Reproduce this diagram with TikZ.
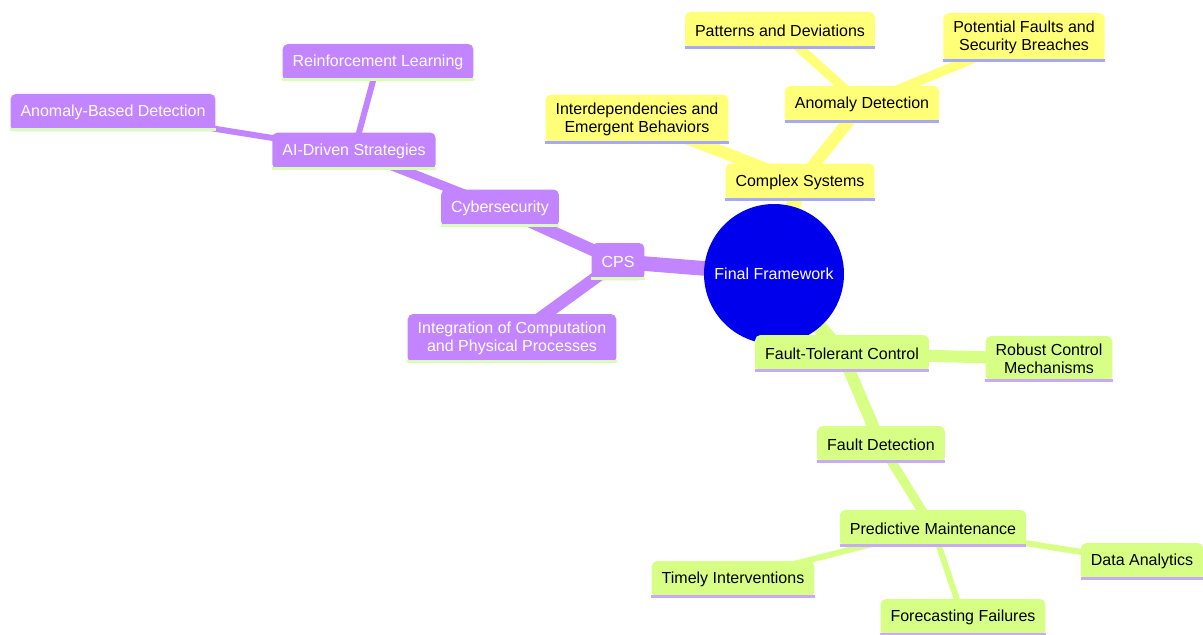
\documentclass[tikz,border=0pt]{standalone}
\usepackage{fontspec}
\setmainfont{Liberation Sans}
\pgfdeclarelayer{background}
\pgfsetlayers{background,main}
\definecolor{purp}{HTML}{C285FF}
\definecolor{purpline}{HTML}{D8FFB8}
\definecolor{yel}{HTML}{FFFF78}
\definecolor{yelline}{HTML}{A8A8F8}
\definecolor{grn}{HTML}{D8FF85}
\definecolor{grnline}{HTML}{C8AAF8}
\definecolor{rootblue}{HTML}{0000EC}
\tikzset{
  mm/.style={rounded corners=4pt, inner xsep=7.5pt, inner ysep=6pt, minimum height=27.75pt, align=center,
    font=\fontsize{12pt}{13.5pt}\selectfont},
  pnode/.style={mm, fill=purp, text=white},
  ynode/.style={mm, fill=yel, text=black},
  gnode/.style={mm, fill=grn, text=black},
  rootnode/.style={circle, fill=rootblue, text=white, minimum size=105pt, inner sep=0pt,
    font=\fontsize{12pt}{13.5pt}\selectfont},
  e0/.style={line width=11pt},
  e1/.style={line width=9pt},
  e2/.style={line width=7pt},
  e3/.style={line width=4.5pt},
  bl/.style={line width=2.2pt},
}
\begin{document}
\begin{tikzpicture}[x=0.75pt, y=-0.75pt]
\useasboundingbox (0,0) rectangle (1203,635);
% root
\node[rootnode] (root) at (774,274) {Final Framework};
% purple
\node[pnode] (cps) at (618,261.5) {CPS};
\node[pnode] (cyber) at (500,208) {Cybersecurity};
\node[pnode] (integ) at (512,338.5) {Integration of Computation\\and Physical Processes};
\node[pnode] (ai) at (354,151) {AI-Driven Strategies};
\node[pnode] (abd) at (113,112.5) {Anomaly-Based Detection};
\node[pnode] (rl) at (378,62.5) {Reinforcement Learning};
% yellow
\node[ynode] (cs) at (800,182) {Complex Systems};
\node[ynode] (inter) at (637,119) {Interdependencies and\\Emergent Behaviors};
\node[ynode] (ad) at (862,104.5) {Anomaly Detection};
\node[ynode] (pd) at (780,30.5) {Patterns and Deviations};
\node[ynode] (pf) at (1024,37.5) {Potential Faults and\\Security Breaches};
% green
\node[gnode] (ftc) at (842,353.5) {Fault-Tolerant Control};
\node[gnode] (rcm) at (1049,359) {Robust Control\\Mechanisms};
\node[gnode] (fd) at (881,444.5) {Fault Detection};
\node[gnode] (pm) at (933,528.5) {Predictive Maintenance};
\node[gnode] (ti) at (733,579.5) {Timely Interventions};
\node[gnode] (da) at (1142,561.5) {Data Analytics};
\node[gnode] (ff) at (963,617.5) {Forecasting Failures};
% bottom lines
\foreach \n in {cps,cyber,integ,ai,abd,rl}{\draw[purpline, bl] ([yshift=1.1pt]\n.south west) -- ([yshift=1.1pt]\n.south east);}
\foreach \n in {cs,inter,ad,pd,pf}{\draw[yelline, bl] ([yshift=1.1pt]\n.south west) -- ([yshift=1.1pt]\n.south east);}
\foreach \n in {ftc,rcm,fd,pm,ti,da,ff}{\draw[grnline, bl] ([yshift=1.1pt]\n.south west) -- ([yshift=1.1pt]\n.south east);}
% edges
\begin{pgfonlayer}{background}
\draw[purp, e0] (root.center) -- (cps.center);
\draw[purp, e1] (cps.center) -- (cyber.center);
\draw[purp, e1] (cps.center) -- (integ.center);
\draw[purp, e2] (cyber.center) -- (ai.center);
\draw[purp, e3] (ai.center) -- (abd.center);
\draw[purp, e3] (ai.center) -- (rl.center);
\draw[yel, e0] (root.center) -- (cs.center);
\draw[yel, e1] (cs.center) -- (inter.center);
\draw[yel, e1] (cs.center) -- (ad.center);
\draw[yel, e2] (ad.center) -- (pd.center);
\draw[yel, e2] (ad.center) -- (pf.center);
\draw[grn, e0] (root.center) -- (ftc.center);
\draw[grn, e1] (ftc.center) -- (rcm.center);
\draw[grn, e1] (ftc.center) -- (fd.center);
\draw[grn, e2] (fd.center) -- (pm.center);
\draw[grn, e3] (pm.center) -- (ti.center);
\draw[grn, e3] (pm.center) -- (da.center);
\draw[grn, e3] (pm.center) -- (ff.center);
\end{pgfonlayer}
\end{tikzpicture}
\end{document}
